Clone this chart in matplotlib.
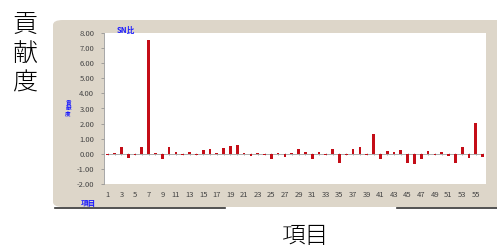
import matplotlib.pyplot as plt
from matplotlib.patches import FancyBboxPatch
from matplotlib.lines import Line2D

plt.rcParams['font.family'] = ['Noto Sans CJK JP', 'DejaVu Sans']

# item numbers and contribution values (SN ratio)
items = list(range(1, 57))
values = [-0.05, 0.05, 0.45, -0.30, -0.05, 0.42, 7.55, 0.02, -0.35, 0.45,
          0.15, -0.05, 0.15, -0.08, 0.22, 0.29, 0.05, 0.36, 0.49, 0.60,
          0.02, -0.15, 0.05, -0.05, -0.33, 0.05, -0.22, 0.05, 0.29, 0.13,
          -0.33, 0.10, -0.05, 0.31, -0.58, -0.05, 0.29, 0.42, -0.05, 1.28,
          -0.33, 0.17, 0.10, 0.22, -0.58, -0.69, -0.36, 0.16, -0.05, 0.10,
          -0.16, -0.58, 0.47, -0.29, 2.07, -0.24]
yticks = [-2, -1, 0, 1, 2, 3, 4, 5, 6, 7, 8]
xticks = list(range(1, 56, 2))

fig = plt.figure(figsize=(4.97, 2.49), dpi=100)

# beige chart frame
frame = FancyBboxPatch((53 / 497, 1 - 207 / 249), 460 / 497, 187 / 249,
                       boxstyle='round,pad=0,rounding_size=0.02',
                       transform=fig.transFigure, facecolor='#ddd6c9',
                       edgecolor='none', zorder=-5)
fig.patches.append(frame)
fig.lines.append(Line2D([55 / 497, 225 / 497], [1 - 208 / 249] * 2,
                        transform=fig.transFigure, color='#333333', lw=1.2))
fig.lines.append(Line2D([397 / 497, 497 / 497], [1 - 208 / 249] * 2,
                        transform=fig.transFigure, color='#333333', lw=1.2))

ax = fig.add_axes([104 / 497, 1 - 184 / 249, 382 / 497, 151 / 249], zorder=2)
ax.bar(items, values, width=0.4, color='#c40d17', zorder=3)
ax.plot(items, [0] * len(items), color='#a0a0a0', lw=0.6, marker='|',
        markersize=2, markeredgewidth=0.6, zorder=2)
ax.set_xlim(0.45, 56.5)
ax.set_ylim(-2, 8)
ax.set_yticks(yticks)
ax.set_yticklabels([f'{v:.2f}' for v in yticks])
ax.set_xticks(xticks)
ax.tick_params(axis='both', labelsize=5.5, labelcolor='#444444', colors='#888888')
ax.tick_params(axis='x', length=0, pad=5)
ax.tick_params(axis='y', length=2, width=0.5, pad=5)
for side in ['top', 'right', 'bottom']:
    ax.spines[side].set_visible(False)
ax.spines['left'].set_color('#999999')
ax.spines['left'].set_linewidth(0.6)

# small blue captions inside the frame
fig.text(117 / 497, 1 - 30 / 249, 'SN比', color='#1a1aff', fontsize=5.5,
         fontweight='bold', va='center', ha='left')
fig.text(68 / 497, 1 - 108 / 249, '貢\n献\n度', color='#1a1aff', fontsize=4,
         fontweight='bold', va='center', ha='center', linespacing=1.0)
fig.text(88 / 497, 1 - 203 / 249, '項目', color='#1a1aff', fontsize=5.5,
         fontweight='bold', va='center', ha='center')

# large outer labels
fig.text(25 / 497, 1 - 54 / 249, '貢\n献\n度', fontsize=18, fontweight='light',
         va='center', ha='center', linespacing=1.15)
fig.text(305 / 497, 1 - 236 / 249, '項目', fontsize=17, fontweight='light',
         va='center', ha='center')

fig.savefig('out.png', dpi=100)
